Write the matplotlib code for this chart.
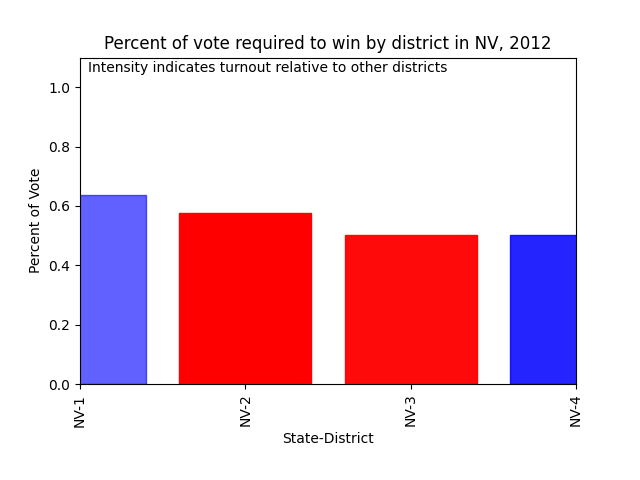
import numpy as np
import matplotlib
matplotlib.use("Agg")
import matplotlib.pyplot as plt

districts = ["NV-1", "NV-2", "NV-3", "NV-4"]
win_share = [0.637, 0.576, 0.502, 0.502]
party_colors = ["blue", "red", "red", "blue"]
turnout_alpha = [0.62, 1.0, 0.96, 0.86]

fig, ax = plt.subplots(figsize=(6.4, 4.8), dpi=100)
fig.subplots_adjust(bottom=0.2)
x = np.arange(len(districts))
for xi, v, c, a in zip(x, win_share, party_colors, turnout_alpha):
    ax.bar(xi, v, width=0.8, color=c, edgecolor=c, alpha=a)

ax.set_xlim(0, len(districts) - 1)
ax.set_ylim(0, 1.1)
ax.set_xticks(x)
ax.set_xticklabels(districts, rotation=90)
ax.set_xlabel("State-District")
ax.set_ylabel("Percent of Vote")
ax.set_title("Percent of vote required to win by district in NV, 2012")
ax.text(0.017, 0.99, "Intensity indicates turnout relative to other districts",
        transform=ax.transAxes, ha="left", va="top")

fig.savefig("out.png")
